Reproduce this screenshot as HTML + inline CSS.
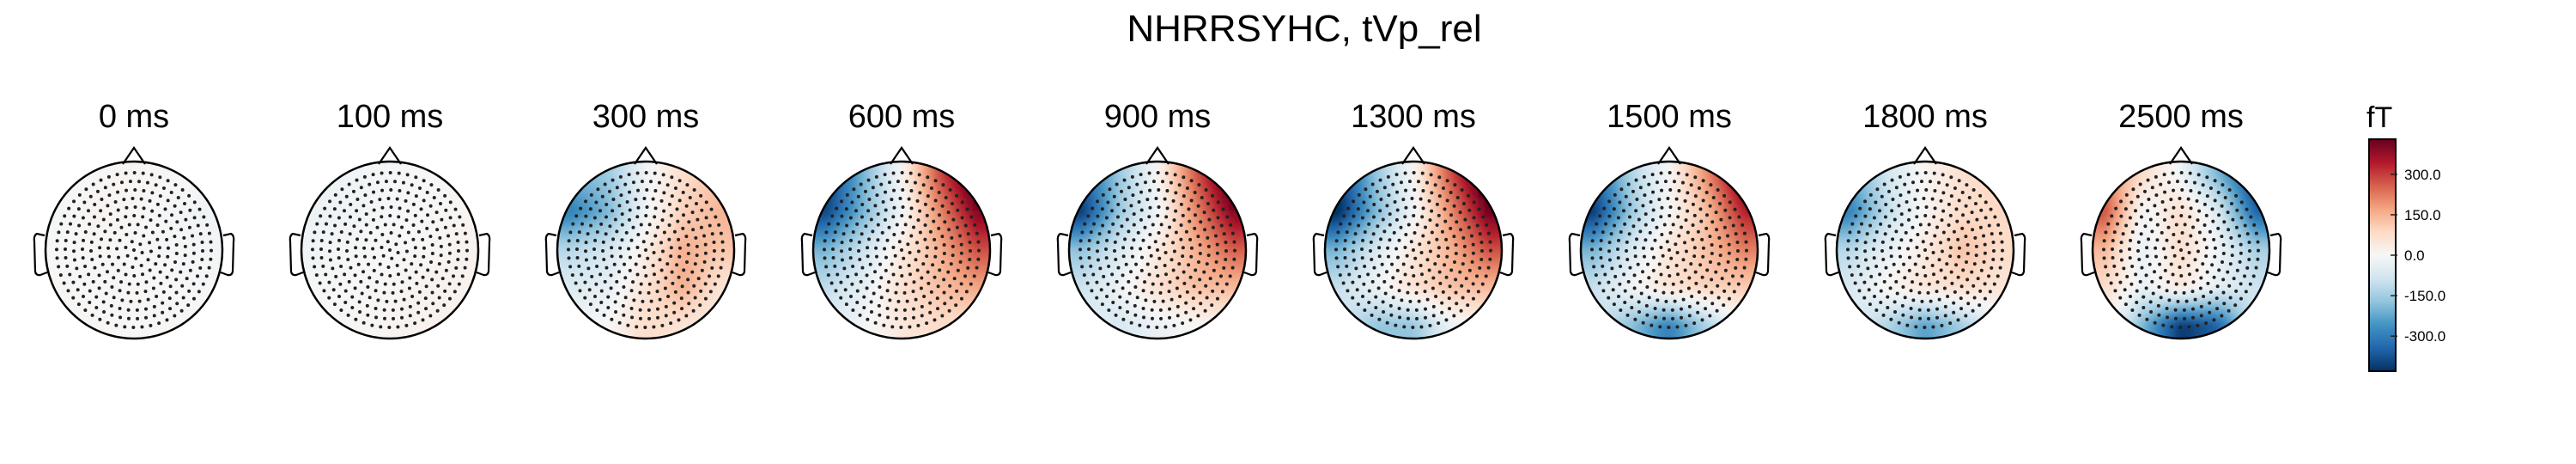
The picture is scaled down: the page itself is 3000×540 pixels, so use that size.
<!DOCTYPE html>
<html><head><meta charset="utf-8"><style>
html,body{margin:0;padding:0;background:#fff;}
svg{display:block;font-family:"Liberation Sans",sans-serif;}
</style></head><body>
<svg id="chart" width="3000" height="540" viewBox="0 0 3000 540" xmlns="http://www.w3.org/2000/svg">
<defs>
<filter id="soft" x="-10%" y="-10%" width="120%" height="120%"><feGaussianBlur stdDeviation="4"/></filter>
<linearGradient id="cbgrad" x1="0" y1="1" x2="0" y2="0">
<stop offset="0" stop-color="#053061"/><stop offset="0.1" stop-color="#2166ac"/><stop offset="0.2" stop-color="#4393c3"/><stop offset="0.3" stop-color="#92c5de"/><stop offset="0.4" stop-color="#d1e5f0"/><stop offset="0.5" stop-color="#f7f7f7"/><stop offset="0.6" stop-color="#fddbc7"/><stop offset="0.7" stop-color="#f4a582"/><stop offset="0.8" stop-color="#d6604d"/><stop offset="0.9" stop-color="#b2182b"/><stop offset="1" stop-color="#67001f"/>
</linearGradient>
</defs>
<text x="1519" y="48" font-size="44" text-anchor="middle" fill="#000">NHRRSYHC, tVp_rel</text>
<g id="maps"></g>
<g id="colorbar"></g>
</svg>
<script>
const times = ["0 ms","100 ms","300 ms","600 ms","900 ms","1300 ms","1500 ms","1800 ms","2500 ms"];
const grid0 = [[-15,5,10,5,-10],[-10,15,5,-10,-15],[0,5,0,-5,-10],[5,0,5,0,-5],[10,5,0,5,5]];
const grid1 = [[-25,-15,-5,0,5],[-25,-15,-5,0,10],[-15,-5,0,5,15],[-5,0,5,15,20],[0,5,10,20,15]];
const grid2 = [[-200,-160,-20,80,120],[-300,-200,-20,100,150],[-120,-80,30,160,120],[-60,-40,60,160,60],[-20,0,80,60,20]];
const grid3 = [[-420,-200,0,280,500],[-400,-200,-20,200,400],[-200,-90,40,150,280],[-110,-40,70,130,170],[-60,-10,50,80,60]];
const grid4 = [[-350,-160,0,260,500],[-420,-160,-20,200,400],[-170,-70,40,150,260],[-90,-20,70,130,140],[-60,-70,-30,0,30]];
const grid5 = [[-420,-170,0,280,520],[-450,-200,-20,200,420],[-200,-70,50,150,280],[-100,-20,70,130,140],[-80,-170,-170,-30,30]];
const grid6 = [[-350,-130,0,200,440],[-420,-160,0,130,340],[-200,-70,50,130,220],[-100,-10,70,100,110],[-80,-180,-300,-140,0]];
const grid7 = [[-220,-80,10,70,90],[-300,-110,10,80,90],[-120,-40,40,130,80],[-70,10,60,80,60],[-60,-130,-240,-150,-30]];
const grid8 = [[220,80,-20,-200,-420],[280,-20,80,-60,-350],[140,-40,80,-20,-140],[80,-30,50,-40,-90],[30,-200,-420,-350,-70]];
const grids = [grid0,grid1,grid2,grid3,grid4,grid5,grid6,grid7,grid8];
const cbTicks = [300,150,0,-150,-300];
const cbLabels = ["300.0","150.0","0.0","-150.0","-300.0"];
const vmax = 430;

const NS="http://www.w3.org/2000/svg";
function mk(tag,attrs,parent){const e=document.createElementNS(NS,tag);for(const k in attrs)e.setAttribute(k,attrs[k]);parent.appendChild(e);return e;}
const stops=["#053061","#2166ac","#4393c3","#92c5de","#d1e5f0","#f7f7f7","#fddbc7","#f4a582","#d6604d","#b2182b","#67001f"].map(h=>[parseInt(h.slice(1,3),16),parseInt(h.slice(3,5),16),parseInt(h.slice(5,7),16)]);
function cmap(v){let t=(v/vmax+1)/2;t=Math.max(0,Math.min(1,t));const f=t*10;const i=Math.min(9,Math.floor(f));const u=f-i;const a=stops[i],b=stops[i+1];return `rgb(${Math.round(a[0]+(b[0]-a[0])*u)},${Math.round(a[1]+(b[1]-a[1])*u)},${Math.round(a[2]+(b[2]-a[2])*u)})`;}
function sample(g,fx,fy){const n=g.length-1;const x=Math.max(0,Math.min(n,fx*n)),y=Math.max(0,Math.min(n,fy*n));const i=Math.min(n-1,Math.floor(x)),j=Math.min(n-1,Math.floor(y));const u=x-i,w=y-j;return g[j][i]*(1-u)*(1-w)+g[j][i+1]*u*(1-w)+g[j+1][i]*(1-u)*w+g[j+1][i+1]*u*w;}
const xScale=i=>156+i*298;
const cy=291,R=103;
const maps=document.getElementById('maps');
const sensors=[];
for(let k=0;k<=9;k++){const r=k*10;const n=k===0?1:Math.round(6.2*k);for(let m=0;m<n;m++){const a=m/n*2*Math.PI+k*0.3;sensors.push([r*Math.cos(a),r*Math.sin(a)]);}}
grids.forEach((g,idx)=>{
  const cx=xScale(idx);
  const grp=mk('g',{},maps);
  
  
  const t=mk('text',{x:cx,y:148,'font-size':38,'text-anchor':'middle',fill:'#000'},grp);
  t.textContent=times[idx];
  
  
  const clip=mk('clipPath',{id:'clip'+idx},grp);
  mk('circle',{cx:cx,cy:cy,r:R},clip);
  const cg=mk('g',{'clip-path':'url(#clip'+idx+')'},grp);
  const hg=mk('g',{filter:'url(#soft)'},cg);
  const N=30,size=2*R+20,step=size/N,x0=cx-size/2,y0=cy-size/2;
  const span=1.7*R;
  for(let j=0;j<N;j++)for(let i=0;i<N;i++){
    const px=x0+(i+0.5)*step-cx, py=y0+(j+0.5)*step-cy;
    const v=sample(g,(px+span/2)/span,(py+span/2)/span);
    const c=mk('rect',{x:x0+i*step-0.5,y:y0+j*step-0.5,width:step+1,height:step+1,fill:cmap(v)},hg);
    
    
  }
  sensors.forEach(p=>{mk('circle',{cx:cx+p[0],cy:cy+p[1],r:2,fill:'#222'},cg);});
  const head=mk('circle',{cx:cx,cy:cy,r:R,fill:'none',stroke:'#000','stroke-width':2.5},grp);
  
  
  mk('path',{d:`M${cx-13},${cy-R+3} L${cx},${cy-R-16} L${cx+13},${cy-R+3}`,fill:'none',stroke:'#000','stroke-width':2.2},grp);
  mk('path',{d:`M${cx-R-1},${cy-17} L${cx-R-10},${cy-19} Q${cx-R-14},${cy-17} ${cx-R-13},${cy-10} L${cx-R-12},${cy+25} Q${cx-R-11},${cy+30} ${cx-R-6},${cy+29} L${cx-R+2},${cy+26}`,fill:'none',stroke:'#000','stroke-width':2.2},grp);
  mk('path',{d:`M${cx+R+1},${cy-17} L${cx+R+10},${cy-19} Q${cx+R+14},${cy-17} ${cx+R+13},${cy-10} L${cx+R+12},${cy+25} Q${cx+R+11},${cy+30} ${cx+R+6},${cy+29} L${cx+R-2},${cy+26}`,fill:'none',stroke:'#000','stroke-width':2.2},grp);
});
const cb=document.getElementById('colorbar');
const cbY=v=>297-v/vmax*135;
const bar=mk('rect',{x:2759,y:162,width:31,height:270,fill:'url(#cbgrad)',stroke:'#000','stroke-width':2},cb);


const u=mk('text',{x:2756,y:148,'font-size':34,fill:'#000'},cb);
u.textContent='fT';


cbTicks.forEach((v,i)=>{
  const y=cbY(v);
  mk('line',{x1:2784,x2:2792,y1:y,y2:y,stroke:'#222','stroke-width':1.5},cb);
  const l=mk('text',{x:2800,y:y+6,'font-size':17,fill:'#000'},cb);
  l.textContent=cbLabels[i];
  
  
});
</script>
</body></html>
